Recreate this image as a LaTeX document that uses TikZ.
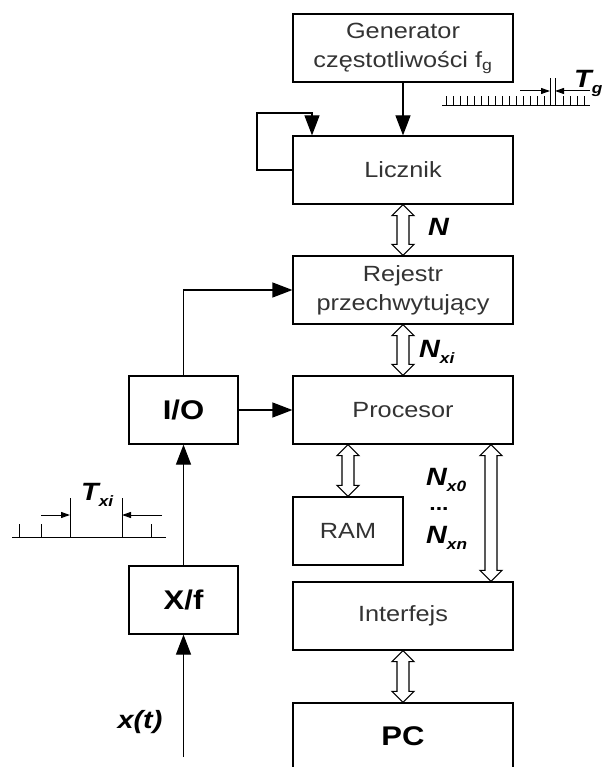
\documentclass[tikz,border=0pt]{standalone}
\usepackage{fontspec}
\setmainfont{Liberation Sans}[FakeStretch=1.15]
\usetikzlibrary{arrows.meta,calc}
\tikzset{
  box/.style={draw, line width=1.2pt, minimum width=220, minimum height=68,
    align=center, text=black!80, font=\fontsize{22}{29}\selectfont},
  smallbox/.style={box, minimum width=109, text=black,
    font=\fontsize{27}{30}\selectfont\bfseries},
  sig/.style={-{Triangle[length=20pt,width=15pt]}, line width=1.2pt},
  tick/.style={-{Triangle[length=9pt,width=6pt]}, line width=1pt},
  bus/.style={line width=1.1pt, to path={let \p1=(\tikztostart), \p2=(\tikztotarget) in
    -- (\x1+11pt,\y1-11pt) -- (\x1+6pt,\y1-11pt) -- (\x1+6pt,\y2+11pt) -- (\x1+11pt,\y2+11pt)
    -- (\x2,\y2) -- (\x1-11pt,\y2+11pt) -- (\x1-6pt,\y2+11pt) -- (\x1-6pt,\y1-11pt)
    -- (\x1-11pt,\y1-11pt) -- cycle}},
  lbl/.style={inner sep=0pt, font=\fontsize{25}{25}\selectfont\bfseries\itshape}
}
\newcommand{\lowidx}[1]{\raisebox{-6pt}{\fontsize{15}{15}\selectfont #1}}

\begin{document}
\begin{tikzpicture}[x=1pt,y=-1pt]
            \useasboundingbox (0,0) rectangle (604,767);

            % Blocks
            \node[box] (gen) at (403,48) {Generator\\częstotliwości f\textsubscript{g}};
            \node[box] (licz) at (403,170) {Licznik};
            \node[box] (rej) at (403,290) {Rejestr\\przechwytujący};
            \node[box] (proc) at (403,410) {Procesor};
            \node[box, minimum width=110] (ram) at (348,531) {RAM};
            \node[box] (intf) at (403,616) {Interfejs};
            \node[box, minimum height=66, text=black, font=\fontsize{27}{30}\selectfont\bfseries] (pc) at (403,736) {PC};
            \node[smallbox] (io) at (183.5,410) {I/O};
            \node[smallbox] (xf) at (183.5,600) {X/f};

            % Signal lines
            \draw[sig] (gen) -- (licz);
            \coordinate (fbl) at (257,113);
            \coordinate (fbr) at (312,113);
            \draw[sig] (licz.west) -| (fbl) -- (fbr) -- (fbr |- licz.north);
            \draw[sig] (io.north) |- (rej.west);
            \draw[sig] (io) -- (proc);
            \draw[sig] (xf) -- (io);
            \coordinate (xin) at (183.5,757);
            \draw[sig] (xin) -- (xf.south);
            \node[lbl, anchor=base] (xt) at (140,728) {x(t)};

            % Buses
            \draw[bus] (licz.south) to (rej.north);
            \draw[bus] (rej.south) to (proc.north);
            \draw[bus] (ram.north |- proc.south) to (ram.north);
            \coordinate (busx) at (491,0);
            \draw[bus] (busx |- proc.south) to (busx |- intf.north);
            \draw[bus] (intf.south) to (pc.north);

            % Bus labels
            \node[lbl, anchor=base west] (n) at (428,235) {N};
            \node[lbl, anchor=base west] (nxi) at (419,357) {N\lowidx{xi}};
            \node[lbl, anchor=base west] (nx0) at (426,485) {N\lowidx{x0}};
            \node[lbl, anchor=base, font=\fontsize{20}{20}\selectfont\bfseries] (dots) at (439,510) {...};
            \node[lbl, anchor=base west] (nxn) at (426,543) {N\lowidx{xn}};

            % Generator pulses
            \draw[line width=1pt] (442,106) -- (590,106);
            \foreach \x in {446,453,...,544}
                \draw[line width=1pt] (\x,106) -- (\x,96);
            \foreach \x in {563,570,577,584}
                \draw[line width=1pt] (\x,106) -- (\x,96);
            \foreach \x in {550,555}
                \draw[line width=1pt] (\x,106) -- (\x,78);
            \draw[tick] (520,91) -- (550,91);
            \draw[tick] (590,91) -- (555,91);
            \node[lbl, anchor=base west] (tg) at (574,88) {T\lowidx{g}};

            % Input pulses
            \draw[line width=1pt] (12,537) -- (166,537);
            \foreach \x in {19,41,151}
                \draw[line width=1pt] (\x,537) -- (\x,524);
            \foreach \x in {70,122}
                \draw[line width=1pt] (\x,537) -- (\x,498);
            \draw[tick] (41,515) -- (70,515);
            \draw[tick] (162,515) -- (122,515);
            \node[lbl, anchor=base west] (txi) at (81,500) {T\lowidx{xi}};
        \end{tikzpicture}
\end{document}
